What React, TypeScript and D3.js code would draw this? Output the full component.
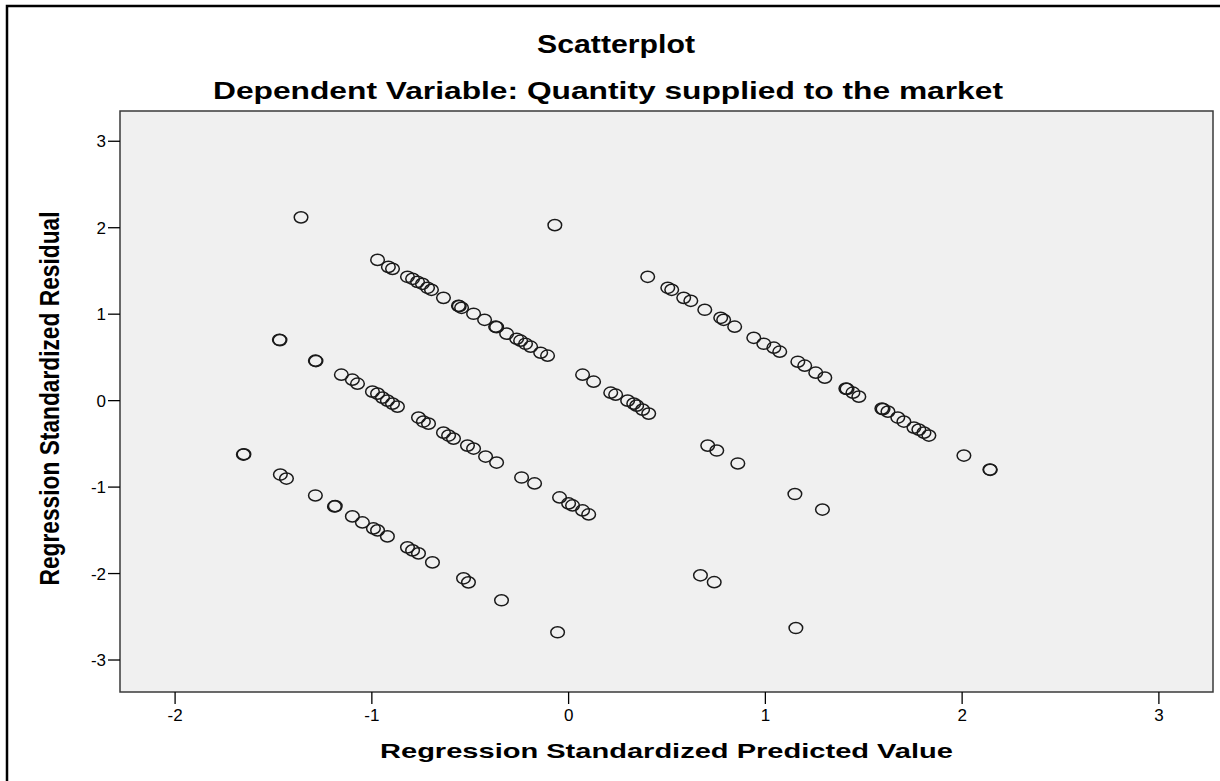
import React from "react";
import * as d3 from "d3";

// Regression Standardized Predicted Value (x) and Regression Standardized Residual (y)
const predicted: number[] = [
  -1.36, -0.07,
  -0.971, -0.916, -0.895, -0.819, -0.793, -0.768, -0.743, -0.717, -0.697, -0.636, -0.56, -0.556, -0.544, -0.483,
  -0.427, -0.371, -0.366, -0.315, -0.264, -0.244, -0.219, -0.193, -0.142, -0.107, 0.071, 0.127, 0.214, 0.239,
  0.3, 0.331, 0.346, 0.376, 0.407, 0.707, 0.753, 0.86, 1.15, 1.29,
  0.402, 0.504, 0.524, 0.585, 0.621, 0.692, 0.773, 0.788, 0.844, 0.941, 0.992, 1.043, 1.073, 1.165, 1.2, 1.256,
  1.302, 1.409, 1.415, 1.445, 1.475, 1.592, 1.598, 1.623, 1.673, 1.704, 1.755, 1.78, 1.806, 1.831, 2.009, 2.141, 2.143,
  -1.47, -1.467, -1.287, -1.284, -1.155, -1.099, -1.073, -0.997, -0.971, -0.946, -0.921, -0.895, -0.87, -0.763,
  -0.738, -0.712, -0.636, -0.61, -0.585, -0.514, -0.483, -0.422, -0.366, -0.239, -0.173, -0.046, 0.0, 0.02, 0.071,
  0.102, 0.67, 0.74, 1.155,
  -1.653, -1.65, -1.465, -1.434, -1.287, -1.19, -1.186, -1.099, -1.048, -0.992, -0.971, -0.921, -0.819, -0.793,
  -0.763, -0.692, -0.534, -0.509, -0.341, -0.056,
];
const residual: number[] = [
  2.12, 2.03,
  1.628, 1.547, 1.524, 1.432, 1.409, 1.374, 1.351, 1.305, 1.282, 1.189, 1.097, 1.092, 1.074, 1.005,
  0.935, 0.855, 0.85, 0.774, 0.716, 0.693, 0.658, 0.624, 0.554, 0.52, 0.3, 0.219, 0.092, 0.069,
  0.0, -0.035, -0.058, -0.104, -0.15, -0.52, -0.577, -0.727, -1.08, -1.26,
  1.432, 1.305, 1.282, 1.189, 1.155, 1.051, 0.958, 0.935, 0.855, 0.727, 0.658, 0.612, 0.566, 0.45, 0.404, 0.323,
  0.266, 0.139, 0.135, 0.092, 0.046, -0.092, -0.098, -0.127, -0.196, -0.242, -0.312, -0.335, -0.37, -0.404, -0.635, -0.797, -0.8,
  0.704, 0.7, 0.462, 0.458, 0.3, 0.242, 0.196, 0.104, 0.081, 0.035, 0.0, -0.035, -0.069, -0.196,
  -0.242, -0.266, -0.37, -0.404, -0.439, -0.52, -0.554, -0.647, -0.716, -0.889, -0.958, -1.12, -1.189, -1.212, -1.27,
  -1.316, -2.02, -2.1, -2.63,
  -0.624, -0.62, -0.855, -0.901, -1.097, -1.224, -1.22, -1.339, -1.409, -1.478, -1.501, -1.57, -1.697, -1.732,
  -1.767, -1.871, -2.055, -2.102, -2.309, -2.679,
];

const xTicks = [-2, -1, 0, 1, 2, 3];
const yTicks = [3, 2, 1, 0, -1, -2, -3];

const titleText = "Scatterplot";
const subtitleText = "Dependent Variable: Quantity supplied to the market";
const xTitle = "Regression Standardized Predicted Value";
const yTitle = "Regression Standardized Residual";

const FONT = "'Liberation Sans', Arial, Helvetica, sans-serif";

export default function App() {
  const W = 1220;
  const H = 781;
  const plot = { left: 120, right: 1213, top: 111, bottom: 692 };
  const x = d3.scaleLinear().domain([-2.28, 3.275]).range([plot.left, plot.right]);
  const y = d3.scaleLinear().domain([-3.37, 3.35]).range([plot.bottom, plot.top]);

  const pts = predicted.map((p, i) => ({ p, r: residual[i] }));

  return (
    <svg
      width={W}
      height={H}
      style={{ position: "absolute", left: 0, top: 0, background: "#ffffff" }}
    >
      <rect x={0} y={0} width={W} height={H} fill="#ffffff" />
      {/* outer frame */}
      <rect x={7} y={6} width={W + 20} height={H + 20} fill="none" stroke="#000" strokeWidth={2.5} />

      {/* titles */}
      <text
        x={616}
        y={53}
        textAnchor="middle"
        fontFamily={FONT}
        fontWeight="bold"
        fontSize={26}
        textLength={158}
        lengthAdjust="spacingAndGlyphs"
        fill="#000"
      >
        {titleText}
      </text>
      <text
        x={608}
        y={99}
        textAnchor="middle"
        fontFamily={FONT}
        fontWeight="bold"
        fontSize={23}
        textLength={790}
        lengthAdjust="spacingAndGlyphs"
        fill="#000"
      >
        {subtitleText}
      </text>

      {/* plot background */}
      <rect
        x={plot.left}
        y={plot.top}
        width={plot.right - plot.left}
        height={plot.bottom - plot.top}
        fill="#f0f0f0"
        stroke="#3a3a3a"
        strokeWidth={1.5}
      />

      {/* y axis ticks */}
      {yTicks.map((t) => (
        <g key={"y" + t}>
          <line x1={plot.left - 12} x2={plot.left} y1={y(t)} y2={y(t)} stroke="#000" strokeWidth={1.3} />
          <text
            x={plot.left - 14}
            y={y(t) + 6}
            textAnchor="end"
            fontFamily={FONT}
            fontSize={17}
            fill="#000"
          >
            {t}
          </text>
        </g>
      ))}

      {/* x axis ticks */}
      {xTicks.map((t) => (
        <g key={"x" + t}>
          <line x1={x(t)} x2={x(t)} y1={plot.bottom} y2={plot.bottom + 12} stroke="#000" strokeWidth={1.3} />
          <text
            x={x(t)}
            y={plot.bottom + 29}
            textAnchor="middle"
            fontFamily={FONT}
            fontSize={17}
            fill="#000"
          >
            {t}
          </text>
        </g>
      ))}

      {/* axis titles */}
      <text
        x={(plot.left + plot.right) / 2}
        y={758}
        textAnchor="middle"
        fontFamily={FONT}
        fontWeight="bold"
        fontSize={21}
        textLength={573}
        lengthAdjust="spacingAndGlyphs"
        fill="#000"
      >
        {xTitle}
      </text>
      <g transform={`translate(59, ${(plot.top + plot.bottom) / 2 - 3})`}>
        <g transform="scale(1.28,1)">
          <text
            transform="rotate(-90)"
            x={0}
            y={0}
            textAnchor="middle"
            fontFamily={FONT}
            fontWeight="bold"
            fontSize={22}
            textLength={374}
            lengthAdjust="spacingAndGlyphs"
            fill="#000"
          >
            {yTitle}
          </text>
        </g>
      </g>

      {/* points */}
      <g>
        {pts.map((d, i) => (
          <ellipse
            key={i}
            cx={x(d.p)}
            cy={y(d.r)}
            rx={6.8}
            ry={5.6}
            fill="none"
            stroke="#1a1a1a"
            strokeWidth={1.5}
          />
        ))}
      </g>
    </svg>
  );
}
